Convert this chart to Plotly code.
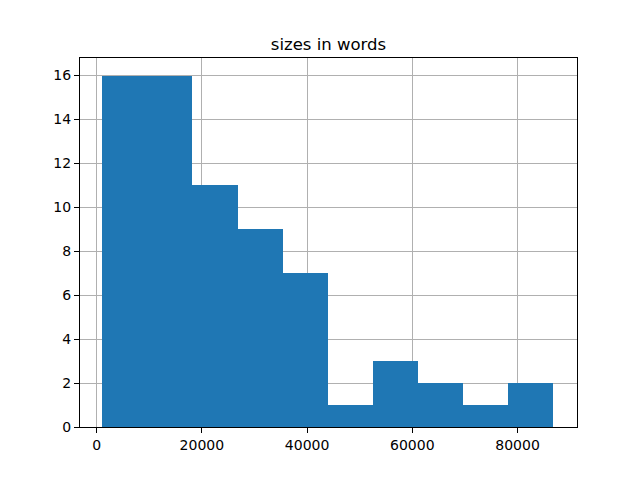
import plotly.graph_objects as go

# Histogram bins
bin_edges = [1090, 9655, 18220, 26785, 35350, 43915, 52480, 61045, 69610, 78175, 86740]
counts = [16, 16, 11, 9, 7, 1, 3, 2, 1, 2]
x_ticks = [0, 20000, 40000, 60000, 80000]
y_ticks = [0, 2, 4, 6, 8, 10, 12, 14, 16]
x_range = [-3160, 91300]

centers = [(a + b) / 2 for a, b in zip(bin_edges[:-1], bin_edges[1:])]
widths = [b - a for a, b in zip(bin_edges[:-1], bin_edges[1:])]

fig = go.Figure(
    go.Bar(
        x=centers,
        y=counts,
        width=widths,
        marker={"color": "#1f77b4", "line": {"width": 0}},
    )
)

axis_common = {
    "showline": True,
    "linecolor": "black",
    "linewidth": 1,
    "mirror": True,
    "ticks": "outside",
    "ticklen": 5,
    "tickcolor": "black",
    "showgrid": True,
    "gridcolor": "#b0b0b0",
    "gridwidth": 0.8,
    "zeroline": False,
    "layer": "above traces",
    "tickfont": {"family": "DejaVu Sans", "size": 14, "color": "black"},
}

# page body has an 8px margin, so margins are shifted to compensate
fig.update_layout(
    width=640,
    height=480,
    margin={"l": 72, "r": 71, "t": 50, "b": 61},
    paper_bgcolor="white",
    plot_bgcolor="white",
    showlegend=False,
    bargap=0,
    title={
        "text": "sizes in words",
        "x": (72 + 569) / 2 / 640,
        "xanchor": "center",
        "y": 1 - 42 / 480,
        "yanchor": "bottom",
        "font": {"family": "DejaVu Sans", "size": 16.5, "color": "black"},
    },
    xaxis={**axis_common, "range": x_range, "tickvals": x_ticks, "tickformat": "d"},
    yaxis={**axis_common, "range": [0, 16.8], "tickvals": y_ticks},
)

fig.write_html("out.html")
